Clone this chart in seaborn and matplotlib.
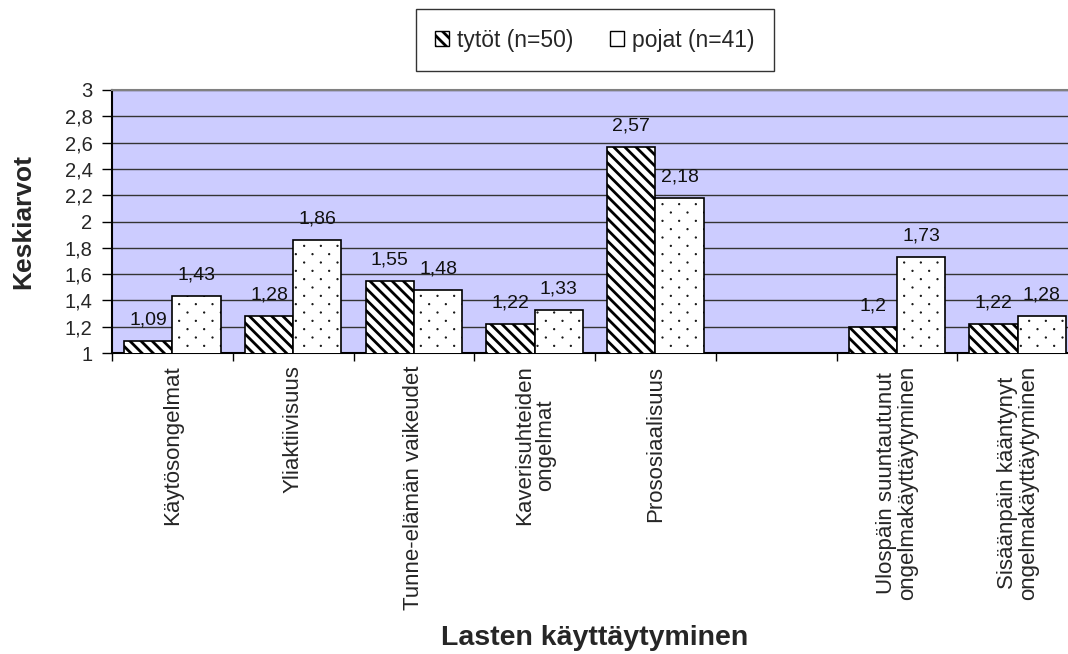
import numpy as np
import pandas as pd
import seaborn as sns
import matplotlib
matplotlib.use("Agg")
import matplotlib.pyplot as plt
import matplotlib.hatch as mhatch
from matplotlib.path import Path
from matplotlib.patches import Patch
from matplotlib.ticker import FuncFormatter, FixedLocator

categories = ["Käytösongelmat", "Yliaktiivisuus", "Tunne-elämän vaikeudet",
              "Kaverisuhteiden\nongelmat", "Prososiaalisuus", "",
              "Ulospäin suuntautunut\nongelmakäyttäytyminen",
              "Sisäänpäin kääntynyt\nongelmakäyttäytyminen"]
tytot = [1.09, 1.28, 1.55, 1.22, 2.57, np.nan, 1.2, 1.22]
pojat = [1.43, 1.86, 1.48, 1.33, 2.18, np.nan, 1.73, 1.28]
series_names = ["tytöt (n=50)", "pojat (n=41)"]
y_ticks = [1, 1.2, 1.4, 1.6, 1.8, 2, 2.2, 2.4, 2.6, 2.8, 3]


# sparse staggered dot pattern for the "." hatch (Excel-like)
class SparseDots(mhatch.HatchPatternBase):
    def __init__(self, hatch, density):
        n = hatch.count(".")
        self.ncols = 6 * n
        self.nrows = 12 * n
        self.circle = Path.unit_circle()
        if n == 0:
            self.num_vertices = 0
        else:
            self.num_vertices = self.nrows * self.ncols * len(self.circle.vertices)

    def set_vertices_and_codes(self, vertices, codes):
        cv = self.circle.vertices * 0.004
        cc = self.circle.codes
        vs, cs = [], []
        for j in range(self.nrows):
            shift = (0.5 / self.ncols) if j % 2 else 0.0
            for i in range(self.ncols):
                vs.append(cv + [(i + 0.25) / self.ncols + shift, (j + 0.5) / self.nrows])
                cs.append(cc)
        np.concatenate(vs, out=vertices)
        np.concatenate(cs, out=codes)


mhatch._hatch_types = [t for t in mhatch._hatch_types
                       if t is not mhatch.SmallFilledCircles] + [SparseDots]

sns.set_style("white", {"axes.facecolor": "#CCCCFF"})
plt.rcParams["font.family"] = ["Liberation Sans", "DejaVu Sans"]
plt.rcParams["hatch.linewidth"] = 2.0

df = pd.DataFrame({
    "cat": categories * 2,
    "val": tytot + pojat,
    "grp": [series_names[0]] * len(categories) + [series_names[1]] * len(categories),
})

fig = plt.figure(figsize=(10.68, 6.54), dpi=100)
ax = fig.add_axes([0.1049, 0.4602, 0.9045, 0.4022])

sns.barplot(data=df, x="cat", y="val", hue="grp", order=categories,
            hue_order=series_names, dodge=True, width=0.8, ax=ax,
            legend=False, errorbar=None, palette=["white", "white"],
            saturation=1)


def fmt(v):
    return f"{round(v, 2):g}".replace(".", ",")


hatches = ["\\\\\\", "."]
hatch_lw = [2.0, 1.0]
for cont, h, hl in zip(ax.containers, hatches, hatch_lw):
    for p in cont.patches:
        if p is None:
            continue
        hgt = p.get_height()
        if not np.isfinite(hgt):
            p.set_visible(False)
            continue
        p.set_facecolor("white")
        p.set_edgecolor("black")
        p.set_linewidth(1.2)
        p.set_hatch(h)
        if hasattr(p, "set_hatch_linewidth"):
            p.set_hatch_linewidth(hl)
        p.set_zorder(3)
        ax.annotate(fmt(p.get_y() + hgt), (p.get_x() + p.get_width() / 2, p.get_y() + hgt),
                    xytext=(0, 9), textcoords="offset points", ha="center",
                    va="bottom", fontsize=14, color="#111111", zorder=4)

ax.set_ylim(1, 3)
ax.set_xlim(-0.5, len(categories) - 0.5)
ax.yaxis.set_major_locator(FixedLocator(y_ticks))
ax.yaxis.set_major_formatter(FuncFormatter(lambda v, p: f"{v:g}".replace(".", ",")))
ax.grid(axis="y", color="#333333", linewidth=1, zorder=0)
ax.set_axisbelow(True)

n = len(categories)
ax.set_xticks(np.arange(n + 1) - 0.5)
ax.set_xticklabels([""] * (n + 1))
ax.set_xticks(np.arange(n), minor=True)
ax.set_xticklabels(categories, minor=True, rotation=90, fontsize=16,
                   ha="center", va="top", linespacing=1.0)
ax.tick_params(axis="x", which="major", direction="out", length=6, width=1,
               color="black", bottom=True)
ax.tick_params(axis="x", which="minor", length=0, pad=9)
ax.tick_params(axis="y", direction="out", length=7, width=1, color="black",
               left=True, labelsize=14.5, pad=7)

for side in ["left", "bottom"]:
    ax.spines[side].set_color("black")
    ax.spines[side].set_linewidth(1.5)
ax.spines["top"].set_color("#808080")
ax.spines["top"].set_linewidth(1.5)
ax.spines["right"].set_visible(False)

ax.set_xlabel("Lasten käyttäytyminen", fontsize=20.5, fontweight="bold", va="center")
ax.xaxis.set_label_coords(0.5, -1.085)
ax.set_ylabel("Keskiarvot", fontsize=19, fontweight="bold", va="center")
ax.yaxis.set_label_coords(-0.092, 0.5)

handles = [Patch(facecolor="white", edgecolor="black", hatch="\\\\\\", linewidth=1),
           Patch(facecolor="white", edgecolor="black", linewidth=1)]
leg = fig.legend(handles, series_names, loc="center", ncol=2,
                 bbox_to_anchor=(595 / 1068, 1 - 40 / 654), fontsize=16.5,
                 frameon=True, fancybox=False, borderpad=0.85,
                 handlelength=0.6, handleheight=0.6, handletextpad=0.35,
                 columnspacing=1.6, borderaxespad=0)
leg.get_frame().set_edgecolor("black")
leg.get_frame().set_facecolor("white")
leg.get_frame().set_linewidth(1)

fig.savefig("out.png", dpi=100)
